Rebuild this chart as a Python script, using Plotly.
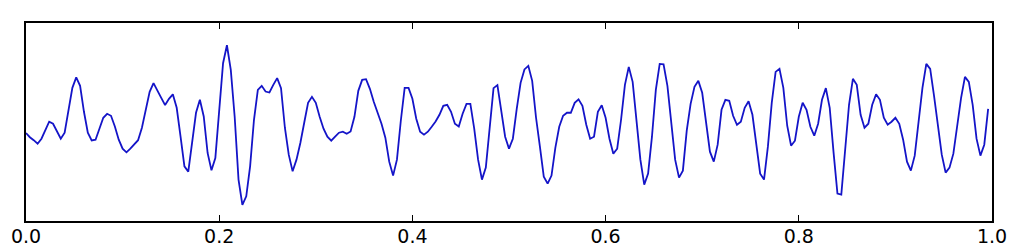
import numpy as np
import plotly.graph_objects as go

# sample times (250 samples, step 0.004)
t = np.arange(250) * 0.004

# signal values (arbitrary units, centred on 0)
signal = [
    -11.3, -15.5, -18.5, -22, -17, -9, 0, -2, -9, -17,
    -11, 12, 34, 44.5, 36, 10, -11, -18.7, -18, -7,
    4, 8, 6, -4.7, -18, -27, -30.7, -27, -23, -18.5,
    -6, 11, 30, 38.7, 32, 24, 16.7, 23, 27.5, 14,
    -15, -44.7, -50, -21, 9, 22, 5.3, -31.3, -48.7, -36.3,
    15.3, 58.7, 76.7, 52, 5.3, -58, -83.3, -74.7, -44.7, 2,
    32, 36, 30.3, 29.3, 37, 43.7, 33.7, -6, -33, -49.7,
    -38, -21.3, -1, 19, 25, 19, 5, -7, -15, -19,
    -15, -11, -10, -12, -9.7, 5, 31, 42, 42.7, 33,
    20, 10, -2, -16, -40, -54, -38, 1, 34, 34,
    23, 3, -10, -13, -10, -5, 0.3, 7, 16, 17,
    10, -2, -4.7, 8, 18, 18, -7, -38, -58, -46,
    -6, 33.7, 36.7, 10, -15, -27, -17, 13, 39, 52.5,
    56, 41, 4, -25, -55, -62, -54, -26, -5, 6,
    9, 9, 19, 22.5, 16, -3, -17, -15, 10, 16.5,
    4, -17, -32, -27, 2, 37, 55, 40, 2, -38,
    -63, -52, -15, 32, 58, 57.5, 36, -1, -38, -56,
    -49, -9, 18, 35, 41, 29, 0, -30, -40, -23,
    12, 22, 21, 6, -3, 0, 14, 20.5, 7, -21,
    -52, -58, -25, 19, 50, 53, 34, -4, -24, -19,
    5, 19, 12, -5, -14, -2, 22, 33.7, 14, -31,
    -72, -73, -28, 17, 43, 37, 7, -6, -2, 17,
    27.5, 22, 4, -3, 0, 4, -2, -18, -40, -49,
    -34, -3, 34, 58, 53, 26, -1, -33, -51, -46,
    -32, -2, 24, 45, 40, 17, -17, -34, -23, 13,
]

x_ticks = [0.0, 0.2, 0.4, 0.6, 0.8, 1.0]
x_tick_labels = ["0.0", "0.2", "0.4", "0.6", "0.8", "1.0"]

fig = go.Figure()
fig.add_trace(go.Scatter(
    x=t, y=signal, mode="lines",
    line=dict(color="#1414c8", width=1.8),
    hoverinfo="skip",
))

fig.update_layout(
    width=1024, height=248,
    margin=dict(l=26, r=32, t=23, b=27),
    paper_bgcolor="white", plot_bgcolor="white",
    showlegend=False,
    font=dict(family="DejaVu Sans", size=19, color="black"),
)
fig.update_xaxes(
    range=[0, 1], tickvals=x_ticks, ticktext=x_tick_labels,
    ticks="inside", ticklen=6, tickwidth=1, tickcolor="black",
    showline=True, linecolor="black", linewidth=1.6, mirror="ticks",
    showgrid=False, zeroline=False, automargin=False,
    ticklabelstandoff=-3,
    tickfont=dict(family="DejaVu Sans", size=19, color="black"),
)
fig.update_yaxes(
    range=[-99.5, 99], showticklabels=False, ticks="",
    showline=True, linecolor="black", linewidth=1.6, mirror=True,
    showgrid=False, zeroline=False, automargin=False,
)

fig.write_html("out.html")
